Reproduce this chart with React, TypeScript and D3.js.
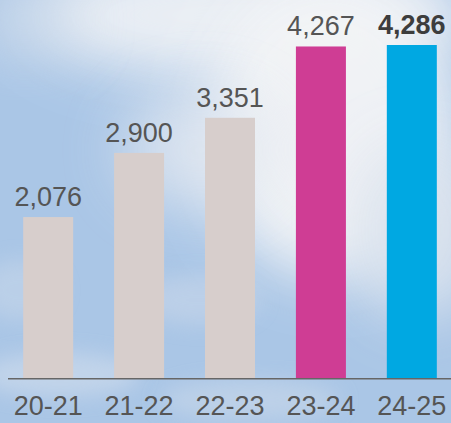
import React, { useRef, useEffect } from "react";
import * as d3 from "d3";

const seasons = ["20-21", "21-22", "22-23", "23-24", "24-25"];
const totals = [2076, 2900, 3351, 4267, 4286];
const barColors = ["#d7cecc", "#d7cecc", "#d7cecc", "#cf3d94", "#00a8e2"];

const W = 451;
const H = 423;

export default function App() {
  const svgRef = useRef<SVGSVGElement>(null);

  useEffect(() => {
    const svg = d3.select(svgRef.current);
    svg.selectAll("*").remove();

    const baseline = 378.7;

    const x = d3.scaleBand()
      .domain(seasons)
      .range([0, 460])
      .paddingInner(0.45)
      .paddingOuter(0.255);

    const y = d3.scaleLinear()
      .domain([0, 4286])
      .range([baseline, 45]);

    // sky background
    const defs = svg.append("defs");
    defs.append("filter")
      .attr("id", "blur")
      .attr("x", "-50%").attr("y", "-50%")
      .attr("width", "200%").attr("height", "200%")
      .append("feGaussianBlur")
      .attr("stdDeviation", 28);
    defs.append("filter")
      .attr("id", "blurSmall")
      .attr("x", "-50%").attr("y", "-50%")
      .attr("width", "200%").attr("height", "200%")
      .append("feGaussianBlur")
      .attr("stdDeviation", 10);

    svg.append("rect")
      .attr("width", W).attr("height", H)
      .attr("fill", "#aac6e6");

    const sky = svg.append("g");
    const clouds = [
      { cx: 250, cy: 15, rx: 220, ry: 65, c: "#eef1f5", o: 0.95, f: "blur" },
      { cx: 330, cy: 130, rx: 125, ry: 150, c: "#f3f4f6", o: 0.95, f: "blur" },
      { cx: 420, cy: 230, rx: 70, ry: 90, c: "#dde4ee", o: 0.9, f: "blur" },
      { cx: 200, cy: 150, rx: 80, ry: 60, c: "#e4e9f1", o: 0.75, f: "blur" },
      { cx: 25, cy: 20, rx: 55, ry: 40, c: "#d4dfec", o: 0.6, f: "blur" },
      { cx: 60, cy: 375, rx: 80, ry: 22, c: "#d2deed", o: 0.6, f: "blurSmall" },
      { cx: 250, cy: 400, rx: 90, ry: 20, c: "#c9d8ea", o: 0.6, f: "blurSmall" },
      { cx: 200, cy: 300, rx: 60, ry: 25, c: "#cdd9ea", o: 0.5, f: "blurSmall" },
      { cx: 20, cy: 290, rx: 40, ry: 30, c: "#cbd9ea", o: 0.5, f: "blurSmall" },
    ];
    sky.selectAll("ellipse")
      .data(clouds)
      .join("ellipse")
      .attr("cx", d => d.cx)
      .attr("cy", d => d.cy)
      .attr("rx", d => d.rx)
      .attr("ry", d => d.ry)
      .attr("fill", d => d.c)
      .attr("opacity", d => d.o)
      .attr("filter", d => `url(#${d.f})`);

    // bars
    svg.append("g")
      .selectAll("rect")
      .data(totals)
      .join("rect")
      .attr("x", (d, i) => x(seasons[i]) as number)
      .attr("y", d => y(d))
      .attr("width", x.bandwidth())
      .attr("height", d => baseline - y(d))
      .attr("fill", (d, i) => barColors[i]);

    // value labels
    svg.append("g")
      .selectAll("text")
      .data(totals)
      .join("text")
      .attr("x", (d, i) => (x(seasons[i]) as number) + x.bandwidth() / 2)
      .attr("y", d => y(d) - 11)
      .attr("text-anchor", "middle")
      .attr("font-family", "'Liberation Sans', Arial, sans-serif")
      .attr("font-size", 27)
      .attr("font-weight", (d, i) => (i === totals.length - 1 ? "bold" : "normal"))
      .attr("fill", (d, i) => (i === totals.length - 1 ? "#3d3d3d" : "#555"))
      .text(d => d3.format(",")(d));

    // x axis
    const axis = svg.append("g")
      .attr("transform", `translate(0,${baseline})`)
      .call(d3.axisBottom(x).tickSize(0).tickPadding(17));
    axis.select(".domain").remove();
    axis.selectAll("text")
      .attr("font-family", "'Liberation Sans', Arial, sans-serif")
      .attr("font-size", 27)
      .attr("fill", "#555");

    svg.append("line")
      .attr("x1", 8).attr("x2", W)
      .attr("y1", baseline).attr("y2", baseline)
      .attr("stroke", "#666")
      .attr("stroke-width", 1.5);
  }, []);

  return (
    <svg
      ref={svgRef}
      width={W}
      height={H}
      style={{ position: "absolute", left: 0, top: 0, display: "block" }}
    />
  );
}
